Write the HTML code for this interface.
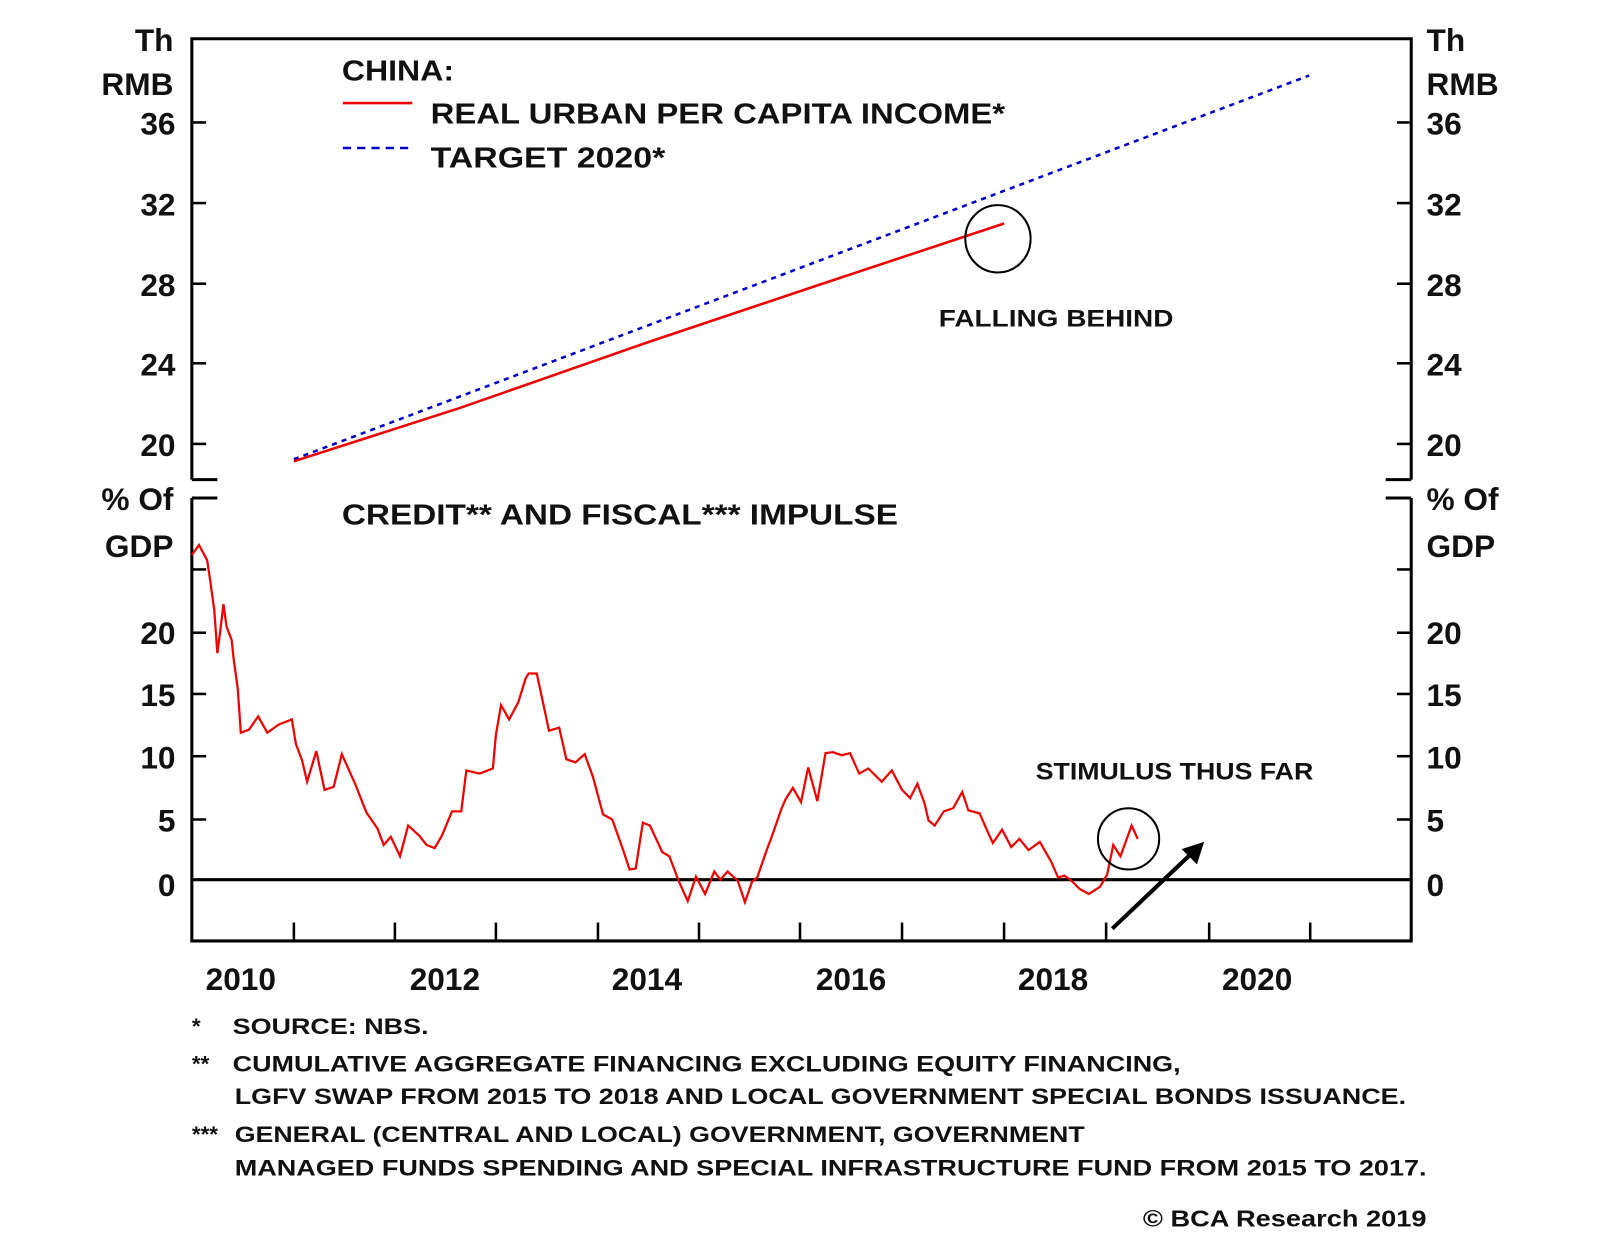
<!DOCTYPE html>
<html><head><meta charset="utf-8"><style>
html,body{margin:0;padding:0;background:#fff;}
svg{display:block;}
text{font-family:"Liberation Sans",sans-serif;font-weight:bold;fill:#111;}
</style></head><body>
<svg width="1600" height="1243" viewBox="0 0 1568 1218" preserveAspectRatio="none" xmlns="http://www.w3.org/2000/svg">
<g stroke="#000" stroke-width="3" fill="none">
<polyline points="188,470 188,38 1383,38 1383,470"/>
<line x1="188" y1="470" x2="213" y2="470"/>
<line x1="1358" y1="470" x2="1383" y2="470"/>
<polyline points="188,488 188,922 1383,922 1383,488"/>
<line x1="188" y1="488" x2="213" y2="488"/>
<line x1="1358" y1="488" x2="1383" y2="488"/>
<line x1="188" y1="862" x2="1383" y2="862"/>
</g>
<g stroke="#000" stroke-width="2.5">
<line x1="188" y1="120" x2="202" y2="120"/><line x1="1369" y1="120" x2="1383" y2="120"/>
<line x1="188" y1="199" x2="202" y2="199"/><line x1="1369" y1="199" x2="1383" y2="199"/>
<line x1="188" y1="278" x2="202" y2="278"/><line x1="1369" y1="278" x2="1383" y2="278"/>
<line x1="188" y1="356" x2="202" y2="356"/><line x1="1369" y1="356" x2="1383" y2="356"/>
<line x1="188" y1="435" x2="202" y2="435"/><line x1="1369" y1="435" x2="1383" y2="435"/>
<line x1="188" y1="558" x2="202" y2="558"/><line x1="1369" y1="558" x2="1383" y2="558"/>
<line x1="188" y1="620" x2="202" y2="620"/><line x1="1369" y1="620" x2="1383" y2="620"/>
<line x1="188" y1="680" x2="202" y2="680"/><line x1="1369" y1="680" x2="1383" y2="680"/>
<line x1="188" y1="741" x2="202" y2="741"/><line x1="1369" y1="741" x2="1383" y2="741"/>
<line x1="188" y1="803" x2="202" y2="803"/><line x1="1369" y1="803" x2="1383" y2="803"/>
<line x1="288" y1="904" x2="288" y2="922"/><line x1="387" y1="904" x2="387" y2="922"/>
<line x1="486" y1="904" x2="486" y2="922"/><line x1="586" y1="904" x2="586" y2="922"/>
<line x1="685" y1="904" x2="685" y2="922"/><line x1="784" y1="904" x2="784" y2="922"/>
<line x1="884" y1="904" x2="884" y2="922"/><line x1="984" y1="904" x2="984" y2="922"/>
<line x1="1084" y1="904" x2="1084" y2="922"/><line x1="1185" y1="904" x2="1185" y2="922"/>
<line x1="1284" y1="904" x2="1284" y2="922"/>
</g>
<g font-size="31" text-anchor="end">
<text x="170" y="50">Th</text><text x="170" y="93">RMB</text>
<text x="172" y="132">36</text><text x="172" y="211">32</text><text x="172" y="290">28</text>
<text x="172" y="368">24</text><text x="172" y="447">20</text>
<text x="170" y="500">% Of</text><text x="170" y="546">GDP</text>
<text x="172" y="631">20</text><text x="172" y="692">15</text><text x="172" y="753">10</text>
<text x="172" y="815">5</text><text x="172" y="878">0</text>
</g>
<g font-size="31" text-anchor="start">
<text x="1398" y="50">Th</text><text x="1398" y="93">RMB</text>
<text x="1398" y="132">36</text><text x="1398" y="211">32</text><text x="1398" y="290">28</text>
<text x="1398" y="368">24</text><text x="1398" y="447">20</text>
<text x="1398" y="500">% Of</text><text x="1398" y="546">GDP</text>
<text x="1398" y="631">20</text><text x="1398" y="692">15</text><text x="1398" y="753">10</text>
<text x="1398" y="815">5</text><text x="1398" y="878">0</text>
</g>
<g font-size="31" text-anchor="middle">
<text x="236" y="970">2010</text><text x="436" y="970">2012</text><text x="634" y="970">2014</text>
<text x="834" y="970">2016</text><text x="1032" y="970">2018</text><text x="1232" y="970">2020</text>
</g>
<g font-size="28">
<text x="335" y="79" textLength="110" lengthAdjust="spacingAndGlyphs">CHINA:</text>
<text x="422" y="121" textLength="563" lengthAdjust="spacingAndGlyphs">REAL URBAN PER CAPITA INCOME*</text>
<text x="422" y="164" textLength="230" lengthAdjust="spacingAndGlyphs">TARGET 2020*</text>
<text x="335" y="514" textLength="545" lengthAdjust="spacingAndGlyphs">CREDIT** AND FISCAL*** IMPULSE</text>
</g>
<line x1="336" y1="101" x2="404" y2="101" stroke="#e00" stroke-width="2.5"/>
<line x1="336" y1="145" x2="404" y2="145" stroke="#00c" stroke-width="2.5" stroke-dasharray="8,6"/>
<line x1="288" y1="450" x2="1283" y2="74" stroke="#00c" stroke-width="2.5" stroke-dasharray="5,5"/>
<polyline points="288,452 450,400 636,335 800,280 984,219" fill="none" stroke="#e00" stroke-width="2.5"/>
<ellipse cx="978" cy="234" rx="32" ry="33" fill="none" stroke="#000" stroke-width="2"/>
<text x="920" y="320" font-size="24" textLength="230" lengthAdjust="spacingAndGlyphs">FALLING BEHIND</text>
<polyline fill="none" stroke="#e00" stroke-width="2.2" points="188,544 195,534 203,549 206,569 210,598 213,640 216,617 219,592 222,614 227,627 229,646 233,675 236,718 244,715 253,702 262,718 273,710 286,705 290,729 296,745 301,766 310,736 318,774 327,771 335,739 348,768 359,796 370,812 376,828 383,820 392,839 400,809 411,819 418,828 426,831 433,819 443,795 452,795 457,755 470,758 483,753 486,720 491,691 499,705 508,688 515,665 518,660 526,660 531,683 538,716 548,713 555,744 564,747 573,739 581,761 591,798 600,803 610,831 617,852 623,851 630,806 637,809 649,835 656,839 665,863 674,883 682,859 691,876 700,854 706,862 713,854 723,863 730,884 737,864 742,860 751,834 757,818 766,792 770,783 777,772 785,786 792,752 801,785 809,738 816,737 825,740 833,738 842,758 851,753 864,766 874,755 884,774 892,782 899,768 906,787 910,804 916,809 925,795 934,792 943,776 949,794 960,797 967,813 973,826 982,813 991,830 999,822 1008,833 1019,825 1030,844 1037,860 1043,858 1050,863 1058,871 1067,876 1078,869 1085,857 1091,828 1098,839 1109,809 1115,822"/>
<ellipse cx="1106" cy="822" rx="30" ry="30" fill="none" stroke="#000" stroke-width="2"/>
<text x="1015" y="764" font-size="24" textLength="272" lengthAdjust="spacingAndGlyphs">STIMULUS THUS FAR</text>
<line x1="1090" y1="910" x2="1168" y2="836" stroke="#000" stroke-width="4"/>
<polygon points="1180,825 1158,832 1173,847" fill="#000"/>
<g font-size="22">
<text x="188" y="1013">*</text><text x="228" y="1013" textLength="192" lengthAdjust="spacingAndGlyphs">SOURCE: NBS.</text>
<text x="188" y="1050">**</text><text x="228" y="1050" textLength="929" lengthAdjust="spacingAndGlyphs">CUMULATIVE AGGREGATE FINANCING EXCLUDING EQUITY FINANCING,</text>
<text x="230" y="1082" textLength="1148" lengthAdjust="spacingAndGlyphs">LGFV SWAP FROM 2015 TO 2018 AND LOCAL GOVERNMENT SPECIAL BONDS ISSUANCE.</text>
<text x="188" y="1119">***</text><text x="230" y="1119" textLength="833" lengthAdjust="spacingAndGlyphs">GENERAL (CENTRAL AND LOCAL) GOVERNMENT, GOVERNMENT</text>
<text x="230" y="1152" textLength="1168" lengthAdjust="spacingAndGlyphs">MANAGED FUNDS SPENDING AND SPECIAL INFRASTRUCTURE FUND FROM 2015 TO 2017.</text>
<text x="1120" y="1202" font-size="23" textLength="278" lengthAdjust="spacingAndGlyphs">© BCA Research 2019</text>
</g>
</svg>
</body></html>
